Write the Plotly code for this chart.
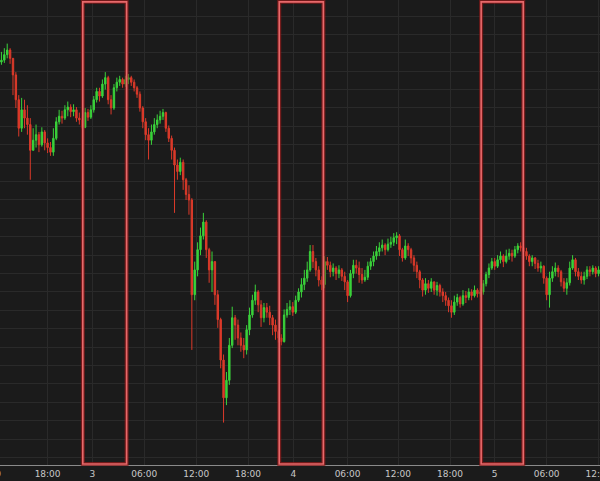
import plotly.graph_objects as go

# ---- data (20-minute bars, price) ----
closes = [5442,5448,5453,5444,5426,5399,5368,5388,5379,5372,
          5344,5355,5361,5350,5364,5352,5347,5342,5357,5375,
          5381,5379,5388,5391,5386,5388,5379,5377,5369,5385,
          5380,5388,5399,5408,5403,5416,5423,5399,5390,5412,
          5418,5421,5416,5421,5423,5418,5412,5405,5390,5375,
          5361,5355,5364,5372,5377,5381,5385,5368,5357,5344,
          5328,5321,5331,5312,5296,5290,5187,5214,5236,5251,
          5266,5236,5214,5223,5187,5160,5116,5075,5094,5132,
          5162,5154,5140,5132,5127,5149,5165,5181,5190,5176,
          5162,5173,5168,5162,5154,5147,5140,5136,5165,5171,
          5174,5168,5181,5190,5198,5205,5214,5234,5223,5214,
          5203,5198,5223,5219,5212,5216,5210,5214,5207,5201,
          5186,5210,5219,5216,5209,5203,5206,5218,5223,5229,
          5234,5238,5241,5236,5242,5244,5249,5251,5236,5227,
          5240,5236,5227,5219,5212,5203,5192,5199,5194,5201,
          5192,5197,5190,5186,5181,5175,5168,5179,5184,5177,
          5186,5184,5190,5186,5192,5188,5190,5199,5209,5216,
          5223,5218,5225,5229,5223,5229,5232,5229,5236,5240,
          5238,5234,5229,5223,5227,5221,5216,5218,5205,5187,
          5205,5212,5216,5212,5201,5194,5200,5216,5225,5212,
          5207,5203,5207,5214,5212,5216,5210,5214]

highs = [5451,5455,5460,5455,5444,5429,5404,5401,5399,5393,
         5379,5368,5372,5364,5369,5366,5357,5353,5368,5380,
         5388,5387,5393,5397,5394,5394,5391,5385,5381,5390,
         5389,5393,5403,5412,5412,5421,5429,5425,5404,5416,
         5423,5425,5423,5425,5427,5425,5421,5414,5408,5392,
         5379,5368,5372,5379,5383,5387,5389,5386,5371,5360,
         5347,5334,5336,5334,5314,5306,5292,5223,5244,5260,
         5276,5268,5238,5234,5223,5192,5162,5122,5103,5140,
         5174,5165,5160,5146,5140,5154,5173,5187,5198,5192,
         5181,5178,5178,5175,5165,5160,5149,5144,5171,5178,
         5181,5179,5186,5194,5205,5214,5223,5241,5241,5227,
         5218,5207,5229,5228,5223,5221,5218,5219,5216,5212,
         5203,5214,5225,5225,5223,5216,5214,5223,5227,5234,
         5240,5244,5247,5243,5248,5250,5254,5255,5253,5238,
         5247,5243,5238,5230,5223,5214,5205,5205,5203,5205,
         5201,5201,5199,5194,5190,5184,5181,5186,5188,5186,
         5192,5191,5194,5193,5197,5194,5194,5203,5212,5221,
         5227,5227,5230,5234,5231,5236,5237,5236,5240,5243,
         5244,5240,5238,5231,5230,5228,5225,5223,5219,5207,
         5212,5218,5222,5219,5214,5205,5205,5223,5230,5227,
         5216,5212,5212,5218,5218,5219,5218,5218]

lows = [5437,5439,5444,5438,5404,5390,5359,5364,5368,5361,
        5312,5344,5347,5342,5348,5344,5341,5338,5338,5355,
        5372,5373,5377,5381,5380,5381,5375,5372,5367,5368,
        5376,5378,5385,5396,5397,5401,5410,5394,5383,5388,
        5408,5414,5412,5413,5416,5414,5408,5401,5386,5368,
        5355,5334,5350,5361,5368,5373,5377,5364,5353,5334,
        5276,5312,5317,5301,5290,5274,5127,5181,5207,5230,
        5247,5227,5200,5190,5176,5151,5107,5048,5067,5089,
        5129,5138,5132,5125,5118,5122,5143,5162,5176,5168,
        5152,5157,5162,5154,5143,5138,5135,5132,5135,5162,
        5165,5164,5166,5179,5184,5192,5201,5212,5216,5207,
        5196,5192,5194,5214,5206,5207,5203,5205,5202,5192,
        5179,5184,5205,5210,5200,5199,5201,5203,5214,5218,
        5225,5229,5234,5230,5234,5238,5240,5242,5229,5223,
        5225,5229,5221,5212,5205,5194,5185,5187,5189,5190,
        5187,5186,5185,5179,5175,5168,5162,5165,5175,5173,
        5175,5178,5181,5181,5184,5184,5185,5187,5196,5205,
        5214,5214,5216,5221,5217,5221,5225,5223,5227,5232,
        5234,5228,5225,5218,5218,5215,5212,5211,5199,5181,
        5173,5201,5207,5206,5196,5190,5187,5197,5214,5207,
        5203,5199,5198,5204,5207,5209,5206,5207]

first_open = 5440
opens = [first_open] + closes[:-1]
bars = list(range(len(closes)))

tick_labels = ["18:00", "3", "06:00", "12:00", "18:00", "4", "06:00",
               "12:00", "18:00", "5", "06:00", "12:00"]
tick_bars = [16, 31.5, 49.5, 67.5, 85.5, 101.2, 120, 137.5, 155.5, 171, 189, 207]

# highlighted sessions (bar index start / end)
session_starts = [28.2, 96.3, 166.3]
session_ends = [43.4, 111.6, 180.9]

BG = "#1b1b1b"
GRID = "#2a2a2a"
LABEL = "#c8c8c8"

fig = go.Figure()
fig.add_trace(go.Candlestick(
    x=bars, open=opens, high=highs, low=lows, close=closes,
    increasing=dict(line=dict(color="#3ad23a", width=1), fillcolor="#3ad23a"),
    decreasing=dict(line=dict(color="#dc3a2a", width=1), fillcolor="#dc3a2a"),
    showlegend=False, hoverinfo="skip",
))

for s, e in zip(session_starts, session_ends):
    fig.add_shape(type="rect", xref="x", yref="paper", x0=s, x1=e, y0=0.002, y1=0.996,
                  line=dict(color="rgba(150,25,25,0.7)", width=4), layer="above")
    fig.add_shape(type="rect", xref="x", yref="paper", x0=s, x1=e, y0=0.002, y1=0.996,
                  line=dict(color="#e8696b", width=1.6), layer="above")

fig.add_annotation(text="12:00", xref="paper", yref="paper", x=3/600, y=-0.005,
                   xanchor="right", yanchor="top", showarrow=False,
                   font=dict(size=9, color=LABEL, family="DejaVu Sans"))

fig.update_layout(
    width=600, height=481,
    margin=dict(l=0, r=0, t=0, b=16, autoexpand=False),
    paper_bgcolor=BG, plot_bgcolor=BG,
    showlegend=False,
    xaxis=dict(
        range=[-0.5, 207.5], rangeslider=dict(visible=False),
        tickmode="array", tickvals=tick_bars, ticktext=tick_labels,
        ticklabeloverflow="allow", automargin=False,
        showgrid=True, gridcolor=GRID, gridwidth=1,
        showline=True, linecolor="#8a8a8a", linewidth=1, mirror=True,
        ticks="", tickfont=dict(size=9, color=LABEL, family="DejaVu Sans"),
        zeroline=False, fixedrange=True,
    ),
    yaxis=dict(
        range=[5001.9, 5507.4], tick0=5010, dtick=20,
        showgrid=True, gridcolor=GRID, gridwidth=1,
        showticklabels=False, zeroline=False, showline=False, ticks="",
        fixedrange=True, automargin=False,
    ),
)

fig.write_html(
    "out.html",
    config={"displayModeBar": False},
    post_script="document.body.style.margin='0';document.body.style.overflow='hidden';"
                "document.body.style.background='#1b1b1b';",
)
